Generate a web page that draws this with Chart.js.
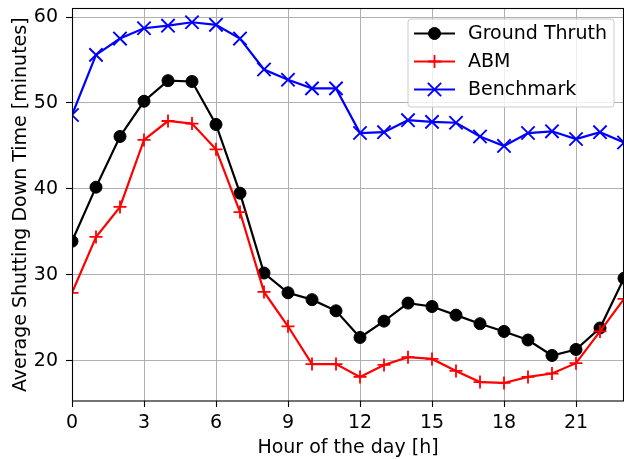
<!DOCTYPE html>
<html>
<head>
<meta charset="utf-8">
<script src="https://cdn.jsdelivr.net/npm/chart.js@4"></script>
<style>
  html, body { margin: 0; padding: 0; background: #fff; }
  #wrap { width: 624px; height: 459px; }
</style>
</head>
<body>
<div id="wrap"><canvas id="chart" width="624" height="459"></canvas></div>
<script>
// hour of the day
const hours = [0, 1, 2, 3, 4, 5, 6, 7, 8, 9, 10, 11, 12, 13, 14, 15, 16, 17, 18, 19, 20, 21, 22, 23];

// average shutting down time [minutes]
const groundTruth = [33.9, 40.2, 46.1, 50.2, 52.6, 52.5, 47.5, 39.5, 30.2, 27.9, 27.1, 25.8,
  22.7, 24.6, 26.7, 26.3, 25.3, 24.3, 23.4, 22.4, 20.6, 21.3, 23.8, 29.6];
const abm = [27.9, 34.4, 37.9, 45.7, 47.9, 47.6, 44.6, 37.3, 28.0, 24.0, 19.6, 19.6,
  18.1, 19.5, 20.4, 20.2, 18.8, 17.5, 17.4, 18.1, 18.5, 19.7, 23.4, 27.2];
const benchmark = [48.6, 55.6, 57.5, 58.7, 59.0, 59.4, 59.1, 57.5, 53.9, 52.7, 51.7, 51.7,
  46.5, 46.6, 48.0, 47.8, 47.7, 46.1, 45.0, 46.5, 46.7, 45.8, 46.6, 45.4];

const seriesNames = ["Ground Thruth", "ABM", "Benchmark"];
const xTicks = [0, 3, 6, 9, 12, 15, 18, 21];
const yTicks = [20, 30, 40, 50, 60];

const FONT = "'DejaVu Sans', sans-serif";

function toPoints(values) {
  return hours.map((h, i) => ({ x: h, y: values[i] }));
}

// matplotlib style box round the axes + legend in the upper right
const frameAndLegend = {
  id: "frameAndLegend",
  afterDatasetsDraw(chart) {
    const { ctx, chartArea } = chart;
    ctx.save();
    ctx.strokeStyle = "#000";
    ctx.lineWidth = 1.1;
    ctx.strokeRect(chartArea.left + 0.5, chartArea.top, chartArea.right - chartArea.left - 1, chartArea.bottom - chartArea.top);
    ctx.restore();
  },
  afterDraw(chart) {
    const { ctx, chartArea } = chart;
    const boxW = 206, boxH = 88;
    const bx = chartArea.right - 10 - boxW;
    const by = chartArea.top + 10.5;
    ctx.save();
    ctx.beginPath();
    ctx.roundRect(bx, by, boxW, boxH, 3);
    ctx.fillStyle = "rgba(255,255,255,0.8)";
    ctx.fill();
    ctx.strokeStyle = "#cccccc";
    ctx.lineWidth = 1;
    ctx.stroke();

    ctx.font = "19px " + FONT;
    ctx.textBaseline = "middle";
    ctx.textAlign = "left";
    chart.data.datasets.forEach((ds, i) => {
      const y = by + 14.5 + i * 28;
      const x0 = bx + 6, x1 = bx + 47;
      ctx.strokeStyle = ds.borderColor;
      ctx.lineWidth = ds.borderWidth;
      ctx.beginPath();
      ctx.moveTo(x0, y);
      ctx.lineTo(x1, y);
      ctx.stroke();
      ctx.fillStyle = ds.borderColor;
      ctx.lineWidth = ds.pointBorderWidth;
      Chart.helpers.drawPoint(ctx, {
        pointStyle: ds.pointStyle,
        radius: ds.pointRadius,
        borderWidth: ds.pointBorderWidth
      }, (x0 + x1) / 2, y);
      ctx.fillStyle = "#000";
      ctx.fillText(ds.label, bx + 60, y + 1);
    });
    ctx.restore();
  }
};

function setTicks(values) {
  return function (scale) {
    scale.ticks = values.map(v => ({ value: v }));
  };
}

function noEdgePadding(scale) {
  scale.paddingTop = 0;
  scale.paddingBottom = 0;
  scale.paddingLeft = 0;
  scale.paddingRight = 0;
}

const ctx = document.getElementById("chart").getContext("2d");
new Chart(ctx, {
  type: "line",
  data: {
    datasets: [
      {
        label: seriesNames[0],
        data: toPoints(groundTruth),
        borderColor: "#000000",
        backgroundColor: "#000000",
        borderWidth: 2.2,
        pointStyle: "circle",
        pointRadius: 6,
        pointBorderWidth: 1,
        pointBackgroundColor: "#000000",
        pointBorderColor: "#000000",
        order: 3
      },
      {
        label: seriesNames[1],
        data: toPoints(abm),
        borderColor: "#ff0000",
        backgroundColor: "#ff0000",
        borderWidth: 2.2,
        pointStyle: "cross",
        pointRadius: 6.5,
        pointBorderWidth: 1.8,
        pointBorderColor: "#ff0000",
        order: 2
      },
      {
        label: seriesNames[2],
        data: toPoints(benchmark),
        borderColor: "#0000ff",
        backgroundColor: "#0000ff",
        borderWidth: 2.2,
        pointStyle: "crossRot",
        pointRadius: 9.4,
        pointBorderWidth: 1.9,
        pointBorderColor: "#0000ff",
        order: 1
      }
    ]
  },
  options: {
    responsive: false,
    animation: false,
    clip: 0,
    layout: { autoPadding: false, padding: { top: 8.5, right: 0, left: 0, bottom: 0 } },
    plugins: {
      legend: { display: false },
      tooltip: { enabled: false }
    },
    elements: { line: { tension: 0 } },
    scales: {
      x: {
        type: "linear",
        min: 0,
        max: 23,
        afterBuildTicks: setTicks(xTicks),
        afterFit(scale) { scale.height = 58; noEdgePadding(scale); },
        ticks: {
          color: "#000",
          font: { family: FONT, size: 19 },
          padding: 5,
          maxRotation: 0
        },
        grid: { color: "#b0b0b0", lineWidth: 1, tickColor: "#000", tickLength: 6, tickWidth: 1.1 },
        border: { display: false },
        title: {
          display: true,
          text: "Hour of the day [h]",
          color: "#000",
          font: { family: FONT, size: 19, lineHeight: 1.1 },
          padding: { top: 0, bottom: 0 }
        }
      },
      y: {
        type: "linear",
        min: 15.3,
        max: 61,
        afterBuildTicks: setTicks(yTicks),
        afterFit(scale) { scale.width = 72; noEdgePadding(scale); },
        ticks: {
          color: "#000",
          font: { family: FONT, size: 19 },
          padding: 8
        },
        grid: { color: "#b0b0b0", lineWidth: 1, tickColor: "#000", tickLength: 6, tickWidth: 1.1 },
        border: { display: false },
        title: {
          display: true,
          text: "Average Shutting Down Time [minutes]",
          color: "#000",
          font: { family: FONT, size: 19, lineHeight: 1.1 },
          padding: { top: 10.5, bottom: 0 }
        }
      }
    }
  },
  plugins: [frameAndLegend]
});
</script>
</body>
</html>
